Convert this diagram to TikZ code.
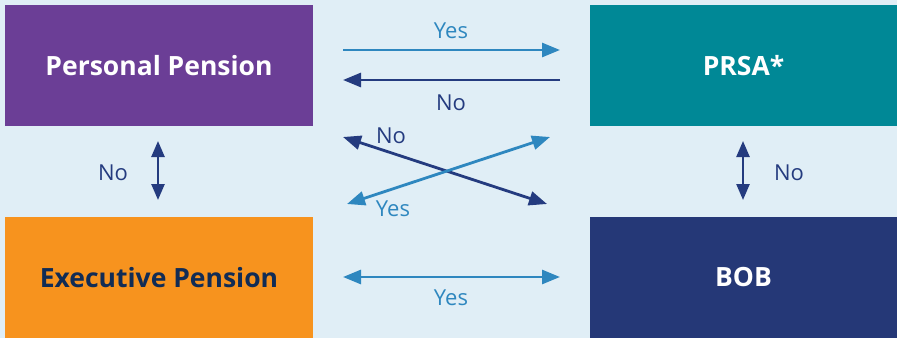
\documentclass[tikz,border=0pt]{standalone}
\usepackage{fontspec}
\setmainfont{Open Sans}
\usepackage{tikz}
\usetikzlibrary{positioning,arrows.meta}
\definecolor{bgblue}{HTML}{E0EEF6}
\definecolor{ppurple}{HTML}{6B3E96}
\definecolor{pteal}{HTML}{008896}
\definecolor{porange}{HTML}{F7931E}
\definecolor{pnavy}{HTML}{253877}
\definecolor{ptext}{HTML}{112C55}
\definecolor{lightarrow}{HTML}{2E87BF}
\definecolor{darkarrow}{HTML}{243B7F}
\tikzstyle{squared} = [rectangle, minimum width=308pt, minimum height=121pt, text centered, inner sep=0pt, font=\fontsize{26.5}{31}\selectfont\bfseries]
\tikzstyle{yesline} = [line width=2.8pt, lightarrow, arrows={-Triangle[length=18pt,width=14pt]}]
\tikzstyle{noline} = [line width=2.8pt, darkarrow, arrows={-Triangle[length=18pt,width=14pt]}]
\tikzstyle{yeslabel} = [lightarrow, font=\fontsize{22}{26}\selectfont]
\tikzstyle{nolabel} = [darkarrow, font=\fontsize{22}{26}\selectfont]

\begin{document}
\begin{tikzpicture}[x=1pt,y=1pt]
			\fill [bgblue] (0,0) rectangle (897,338);
			\useasboundingbox (0,0) rectangle (897,338);

			\node (pp) [squared, fill=ppurple, text=white] at (159,272.5) {Personal Pension};
			\node (prsa) [squared, fill=pteal, text=white, minimum width=307pt] at (743.5,272.5) {PRSA*};
			\node (ep) [squared, fill=porange, text=ptext] at (159,60.5) {Executive Pension};
			\node (bob) [squared, fill=pnavy, text=white, minimum width=307pt] at (743.5,60.5) {BOB};

			% ends of the arrows
			\coordinate (topL) at (343,288);
			\coordinate (topR) at (560,288);
			\coordinate (midL) at (343,258);
			\coordinate (midR) at (560,258);
			\coordinate (crossA) at (343,201);
			\coordinate (crossB) at (547,134);
			\coordinate (crossC) at (347,134);
			\coordinate (crossD) at (550,201);
			\coordinate (botL) at (343,61);
			\coordinate (botR) at (560,61);
			\coordinate (leftT) at (158,197);
			\coordinate (leftB) at (158,138);
			\coordinate (rightT) at (743,197);
			\coordinate (rightB) at (743,138);

			\draw [yesline] (topL) -- (topR);
			\draw [noline] (midR) -- (midL);
			\draw [noline, arrows={Triangle[length=18pt,width=14pt]-Triangle[length=18pt,width=14pt]}] (crossA) -- (crossB);
			\draw [yesline, arrows={Triangle[length=18pt,width=14pt]-Triangle[length=18pt,width=14pt]}] (crossC) -- (crossD);
			\draw [yesline, arrows={Triangle[length=18pt,width=14pt]-Triangle[length=18pt,width=14pt]}] (botL) -- (botR);
			\draw [noline, line width=2.5pt, arrows={Triangle[length=16pt,width=13pt]-Triangle[length=16pt,width=13pt]}] (leftT) -- (leftB);
			\draw [noline, line width=2.5pt, arrows={Triangle[length=16pt,width=13pt]-Triangle[length=16pt,width=13pt]}] (rightT) -- (rightB);

			\node (yes1) [yeslabel] at (451,307) {Yes};
			\node (no1) [nolabel] at (451,235) {No};
			\node (no2) [nolabel] at (391,202) {No};
			\node (yes2) [yeslabel] at (393,129) {Yes};
			\node (yes3) [yeslabel] at (451,40) {Yes};
			\node (no3) [nolabel] at (113,165) {No};
			\node (no4) [nolabel] at (789,165) {No};
\end{tikzpicture}
\end{document}
